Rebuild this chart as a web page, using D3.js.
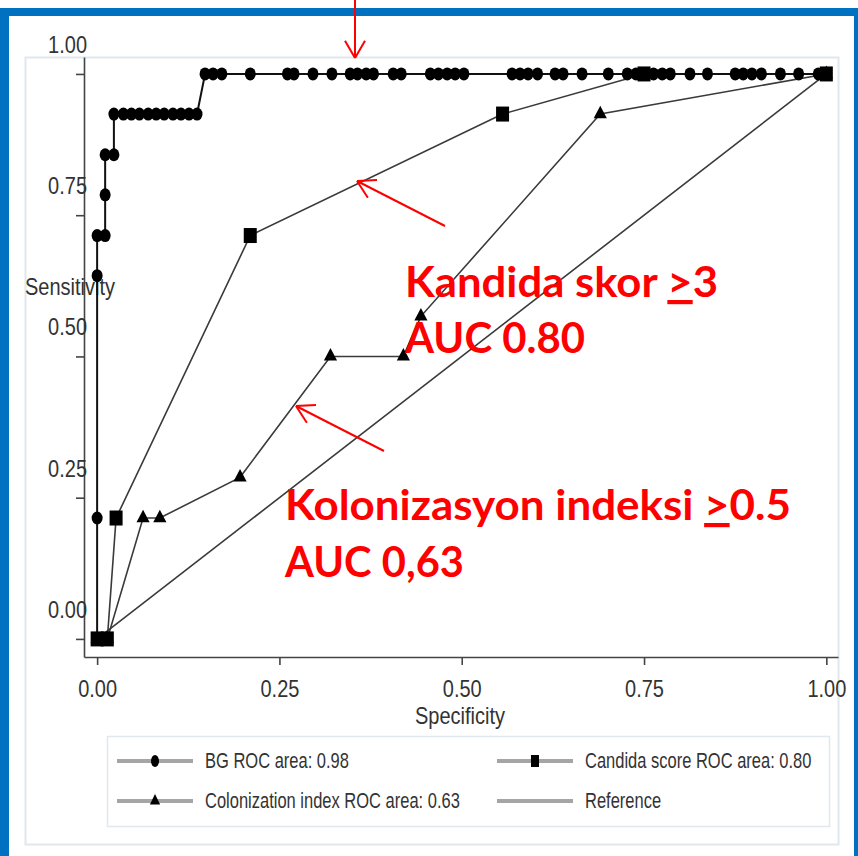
<!DOCTYPE html>
<html>
<head>
<meta charset="utf-8">
<script src="https://cdn.jsdelivr.net/npm/d3@7"></script>
<style>
  body { margin: 0; background: #fff; }
  svg { display: block; }
  .axis text { font-family: "Liberation Sans", Arial, sans-serif; fill: #333; }
  .lab { font-family: "Liberation Sans", Arial, sans-serif; fill: #333; }
  .red { font-family: Lato, "Open Sans", sans-serif; font-weight: 700; fill: #ff0000; }
</style>
</head>
<body>
<div id="chart"></div>
<script>
// tick labels
var xTicks = [0, 0.25, 0.5, 0.75, 1];
var yTicks = [0, 0.25, 0.5, 0.75, 1];

// BG curve
var bgSpec = [0, 0, 0, 0, 0.011, 0.011, 0.011, 0.023,
  0.023, 0.036, 0.047, 0.058, 0.070, 0.081, 0.092, 0.104, 0.115, 0.126, 0.137,
  0.148, 0.159, 0.171, 0.210, 0.261, 0.270, 0.296, 0.322, 0.347, 0.357, 0.369, 0.379,
  0.406, 0.417, 0.457, 0.468, 0.480, 0.491, 0.503, 0.569, 0.580, 0.591, 0.604, 0.628,
  0.639, 0.665, 0.701, 0.727, 0.739, 0.763, 0.775, 0.786, 0.813, 0.837, 0.875, 0.886,
  0.898, 0.911, 0.937, 0.962, 0.989, 1.0];
var bgSens = [0, 0.214, 0.643, 0.714, 0.714, 0.786, 0.857, 0.857,
  0.929, 0.929, 0.929, 0.929, 0.929, 0.929, 0.929, 0.929, 0.929, 0.929, 0.929,
  1, 1, 1, 1, 1, 1, 1, 1, 1, 1, 1, 1,
  1, 1, 1, 1, 1, 1, 1, 1, 1, 1, 1, 1,
  1, 1, 1, 1, 1, 1, 1, 1, 1, 1, 1, 1,
  1, 1, 1, 1, 1, 1];

// Candida score curve
var candSpec = [0, 0.014, 0.026, 0.210, 0.556, 0.750, 1.0];
var candSens = [0, 0, 0.214, 0.714, 0.929, 1, 1];

// Colonization index curve
var colSpec = [0, 0.014, 0.063, 0.086, 0.196, 0.320, 0.420, 0.444, 0.690, 1.0];
var colSens = [0, 0, 0.214, 0.214, 0.286, 0.5, 0.5, 0.571, 0.929, 1];

// reference line
var refSpec = [0, 1];
var refSens = [0, 1];

var legendLabels = ["BG ROC area: 0.98", "Candida score ROC area: 0.80",
                    "Colonization index ROC area: 0.63", "Reference"];

var W = 858, H = 856;

var svg = d3.select("#chart").append("svg")
  .attr("width", W).attr("height", H);

svg.append("rect").attr("width", W).attr("height", H).attr("fill", "#fff");

// blue frame
svg.append("rect").attr("x", 0).attr("y", 8).attr("width", W).attr("height", 8).attr("fill", "#0070c0");
svg.append("rect").attr("x", 0).attr("y", 8).attr("width", 9).attr("height", H - 8).attr("fill", "#0070c0");
svg.append("rect").attr("x", 854).attr("y", 8).attr("width", 4).attr("height", H - 8).attr("fill", "#0070c0");

// graph region outline
svg.append("rect").attr("x", 25.5).attr("y", 57.5).attr("width", 813).attr("height", 787)
  .attr("fill", "none").attr("stroke", "#dfe8ee").attr("stroke-width", 2);

var x = d3.scaleLinear().domain([-0.018, 1.016]).range([84, 838]);
var y = d3.scaleLinear().domain([-0.032, 1.030]).range([657, 57]);

var fmt = d3.format(".2f");
var sy = 1.2;

var xAxis = svg.append("g").attr("class", "axis")
  .attr("transform", "translate(0,657)")
  .call(d3.axisBottom(x).tickValues(xTicks).tickSize(8).tickSizeOuter(0).tickFormat(fmt));
xAxis.selectAll("text")
  .attr("y", 33).attr("dy", 0)
  .attr("transform", "scale(1," + sy + ")")
  .style("font-size", "20px");

var yAxis = svg.append("g").attr("class", "axis")
  .attr("transform", "translate(84,0)")
  .call(d3.axisLeft(y).tickValues(yTicks).tickSize(8).tickSizeOuter(0).tickFormat(fmt));
yAxis.selectAll("text")
  .attr("x", 3).attr("y", -18).attr("dy", 0)
  .attr("transform", "scale(1," + sy + ")")
  .style("font-size", "20px");

svg.selectAll(".axis path, .axis line").attr("stroke", "#444").attr("stroke-width", 1.6);

function stext(px, py, str, size, anchor, scaleY) {
  return svg.append("text").attr("class", "lab")
    .attr("transform", "translate(" + px + "," + py + ") scale(1," + scaleY + ")")
    .attr("text-anchor", anchor || "start")
    .style("font-size", size + "px")
    .text(str);
}

stext(460, 724, "Specificity", 20, "middle", sy);
stext(25, 295, "Sensitivity", 20, "start", sy);

// curves
var line = d3.line().x(function(d) { return x(d[0]); }).y(function(d) { return y(d[1]); });
function pts(a, b) { return a.map(function(v, i) { return [v, b[i]]; }); }

var refPts = pts(refSpec, refSens);
var colPts = pts(colSpec, colSens);
var candPts = pts(candSpec, candSens);
var bgPts = pts(bgSpec, bgSens);

svg.append("path").datum(refPts).attr("d", line)
  .attr("fill", "none").attr("stroke", "#3a3a3a").attr("stroke-width", 1.6);
svg.append("path").datum(colPts).attr("d", line)
  .attr("fill", "none").attr("stroke", "#3a3a3a").attr("stroke-width", 1.6);
svg.append("path").datum(candPts).attr("d", line)
  .attr("fill", "none").attr("stroke", "#3a3a3a").attr("stroke-width", 1.6);
svg.append("path").datum(bgPts).attr("d", line)
  .attr("fill", "none").attr("stroke", "#111").attr("stroke-width", 2);

// markers
svg.selectAll(".tri").data(colPts).enter().append("path")
  .attr("class", "tri")
  .attr("d", d3.symbol(d3.symbolTriangle, 75))
  .attr("transform", function(d) { return "translate(" + x(d[0]) + "," + y(d[1]) + ") scale(1,1.1)"; })
  .attr("fill", "#000");

svg.selectAll(".sq").data(candPts).enter().append("rect")
  .attr("class", "sq")
  .attr("x", function(d) { return x(d[0]) - 6.5; })
  .attr("y", function(d) { return y(d[1]) - 7.5; })
  .attr("width", 13).attr("height", 15)
  .attr("fill", "#000");

svg.selectAll(".dot").data(bgPts).enter().append("ellipse")
  .attr("class", "dot")
  .attr("cx", function(d) { return x(d[0]); })
  .attr("cy", function(d) { return y(d[1]); })
  .attr("rx", 5.5).attr("ry", 6.5)
  .attr("fill", "#000");

// legend
svg.append("rect").attr("x", 107.5).attr("y", 736.5).attr("width", 722).attr("height", 90)
  .attr("fill", "none").attr("stroke", "#dfe8ee").attr("stroke-width", 1.5);

var legPos = [[117, 761], [497, 761], [117, 801], [497, 801]];
var legSym = ["circle", "square", "triangle", "none"];
legendLabels.forEach(function(lbl, i) {
  var lx = legPos[i][0], ly = legPos[i][1];
  svg.append("line").attr("x1", lx).attr("x2", lx + 76).attr("y1", ly).attr("y2", ly)
    .attr("stroke", "#a5a5a5").attr("stroke-width", 4);
  var mx = lx + 38;
  if (legSym[i] === "circle") {
    svg.append("ellipse").attr("cx", mx).attr("cy", ly).attr("rx", 4).attr("ry", 6).attr("fill", "#000");
  } else if (legSym[i] === "square") {
    svg.append("rect").attr("x", mx - 4).attr("y", ly - 6).attr("width", 8).attr("height", 12).attr("fill", "#000");
  } else if (legSym[i] === "triangle") {
    svg.append("path").attr("d", d3.symbol(d3.symbolTriangle, 45))
      .attr("transform", "translate(" + mx + "," + ly + ") scale(1,1.2)").attr("fill", "#000");
  }
  stext(lx + 88, ly + 7, lbl, 16.5, "start", 1.3);
});

// red annotations
function redText(px, py, parts, len) {
  var t = svg.append("text").attr("class", "red")
    .attr("x", px).attr("y", py)
    .attr("textLength", len).attr("lengthAdjust", "spacingAndGlyphs")
    .style("font-size", "42px");
  parts.forEach(function(p) {
    var s = t.append("tspan").text(p[0]);
    if (p[1]) s.style("text-decoration", "underline");
  });
}
redText(405, 297, [["Kandida skor ", false], [">", true], ["3", false]], 313);
redText(405, 353, [["AUC 0.80", false]], 180);
redText(285, 520, [["Kolonizasyon indeksi ", false], [">", true], ["0.5", false]], 506);
redText(285, 577, [["AUC 0,63", false]], 179);

function arrow(x1, y1, x2, y2) {
  svg.append("line").attr("x1", x1).attr("y1", y1).attr("x2", x2).attr("y2", y2)
    .attr("stroke", "#ff0000").attr("stroke-width", 2);
  var a = Math.atan2(y1 - y2, x1 - x2), L = 20, s = Math.PI / 6;
  [a - s, a + s].forEach(function(b) {
    svg.append("line").attr("x1", x2).attr("y1", y2)
      .attr("x2", x2 + L * Math.cos(b)).attr("y2", y2 + L * Math.sin(b))
      .attr("stroke", "#ff0000").attr("stroke-width", 2);
  });
}
arrow(355, 0, 355, 58);
arrow(445, 226, 357, 181);
arrow(384, 451, 296, 406);
</script>
</body>
</html>
